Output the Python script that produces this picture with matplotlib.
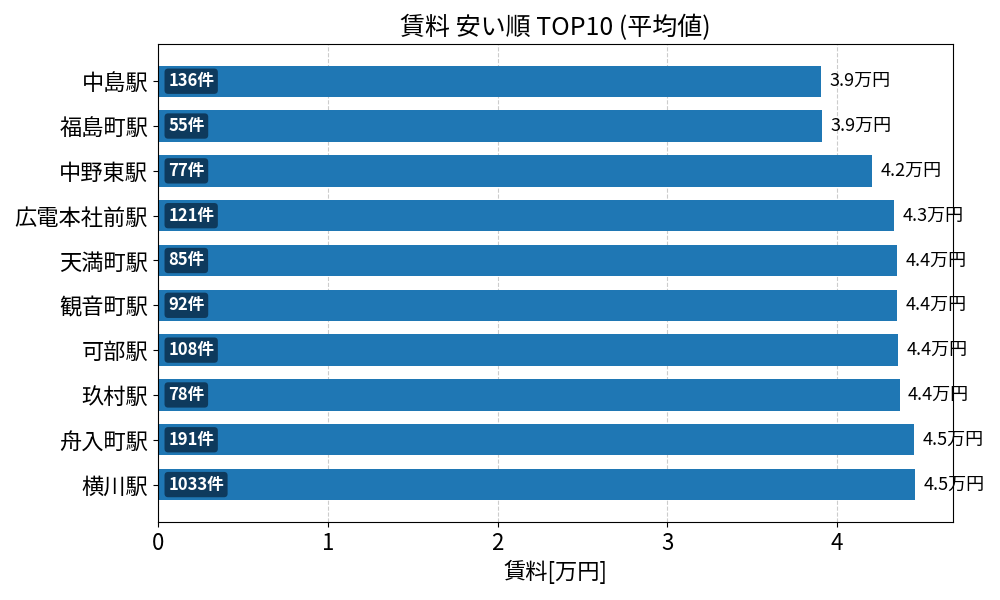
import matplotlib
matplotlib.use("Agg")
import matplotlib.pyplot as plt

plt.rcParams['font.family'] = ['Noto Sans CJK JP', 'DejaVu Sans']

stations = ["中島駅", "福島町駅", "中野東駅", "広電本社前駅", "天満町駅",
            "観音町駅", "可部駅", "玖村駅", "舟入町駅", "横川駅"]
rents = [3.906, 3.912, 4.206, 4.335, 4.352, 4.355, 4.357, 4.367, 4.453, 4.459]
counts = [136, 55, 77, 121, 85, 92, 108, 78, 191, 1033]

fig, ax = plt.subplots(figsize=(10, 6), dpi=100)
y = list(range(len(stations)))
ax.barh(y, rents, height=0.7, color='#1f77b4', zorder=2)
ax.set_yticks(y)
ax.set_yticklabels(stations, fontsize=16)
ax.invert_yaxis()
ax.tick_params(axis='x', labelsize=16)
ax.set_xlim(0, max(rents) * 1.05)
ax.grid(axis='x', linestyle='--', color='#cccccc', linewidth=0.8, zorder=0)
ax.set_axisbelow(True)

for yi, r, c in zip(y, rents, counts):
    ax.text(r + 0.05, yi, f"{r:.1f}万円", va='center', ha='left', fontsize=13)
    ax.text(0.06, yi, f"{c}件", va='center', ha='left', fontsize=12,
            color='white', fontweight='bold',
            bbox=dict(boxstyle='round,pad=0.22', facecolor='#0d3454',
                      edgecolor='none', alpha=0.9), zorder=3)

ax.set_title("賃料 安い順 TOP10 (平均値)", fontsize=18)
ax.set_xlabel("賃料[万円]", fontsize=16)
fig.subplots_adjust(left=0.158, right=0.953, top=0.927, bottom=0.13)
fig.savefig("out.png")
